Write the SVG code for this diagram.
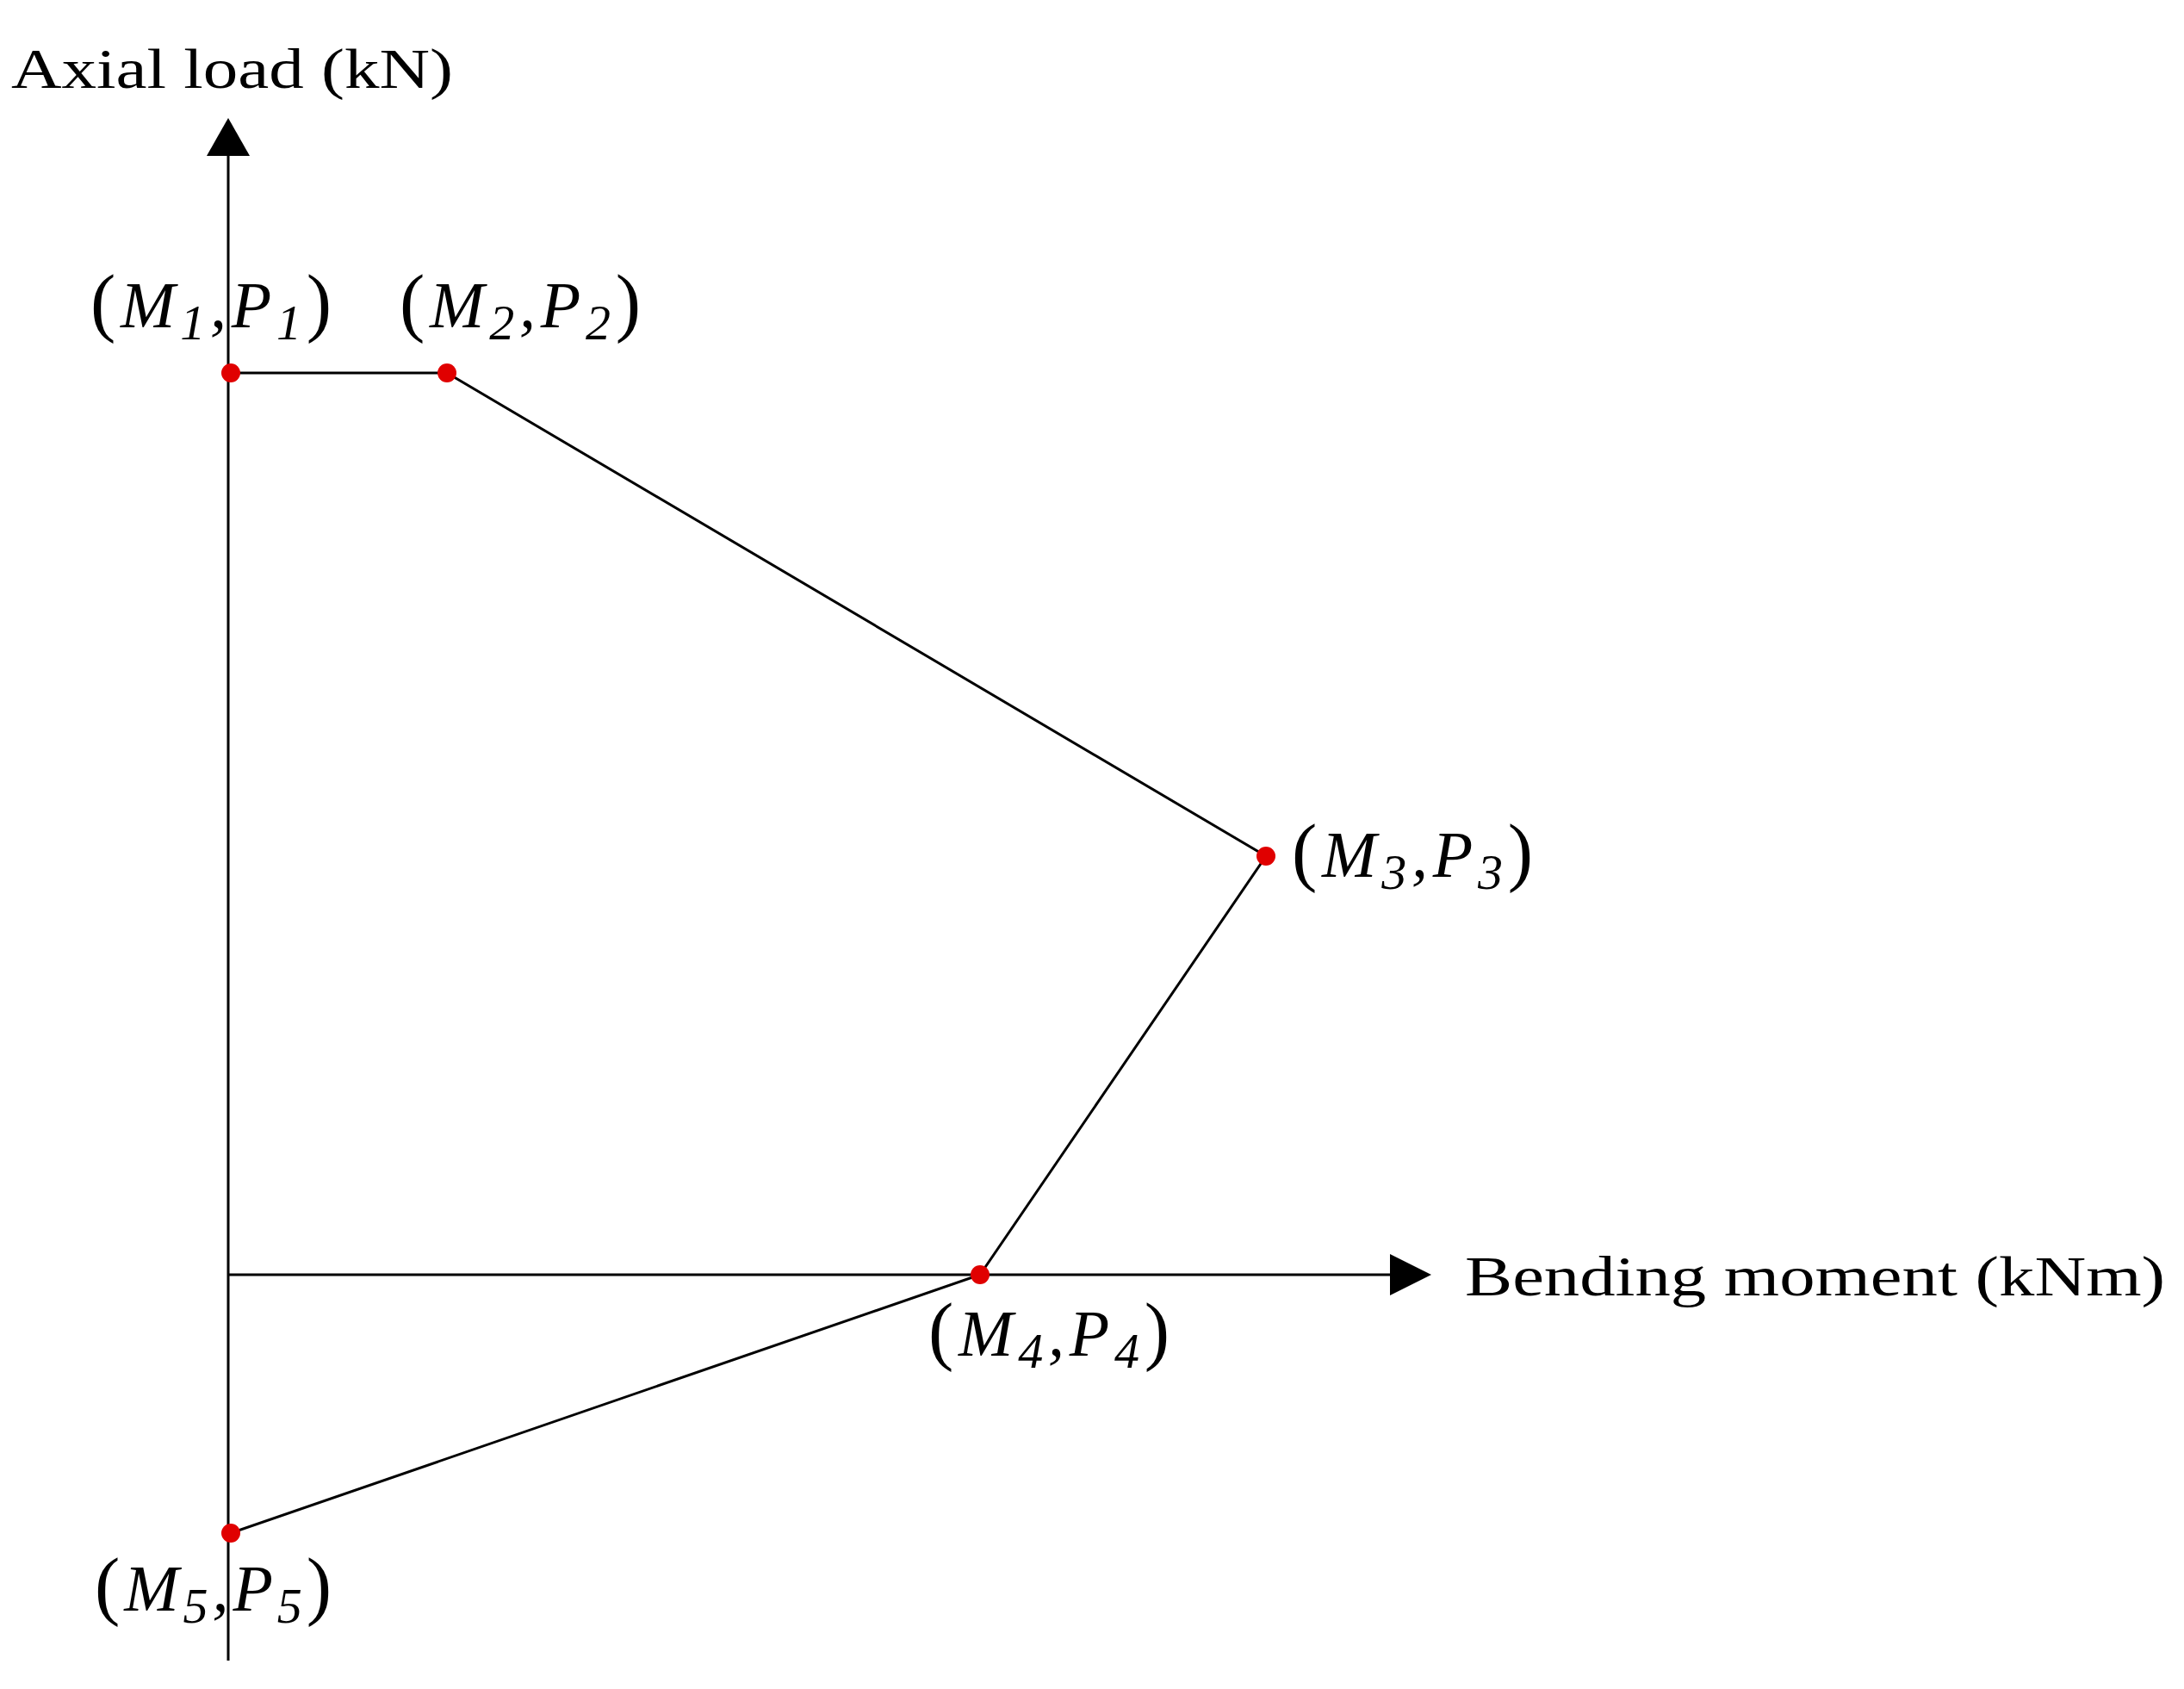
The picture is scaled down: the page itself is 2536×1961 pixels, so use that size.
<svg xmlns="http://www.w3.org/2000/svg" width="2536" height="1961" viewBox="0 0 2536 1961">
<style>
.ax{stroke:#000;stroke-width:3;fill:none}
.ln{stroke:#000;stroke-width:3;fill:none}
.pt{fill:#e00000}
.t{font-family:"Liberation Serif",serif;font-size:66px;fill:#000}
.l{font-family:"Liberation Serif",serif;font-size:76px;font-style:italic;fill:#000}
.s{font-size:58px}
.p{font-style:normal;font-size:88px}
</style>
<rect width="2536" height="1961" fill="#fff"/>
<g id="axes">
<line class="ax" x1="265" y1="175" x2="265" y2="1928"/>
<polygon points="265,137 240,181 290,181"/>
<line class="ax" x1="265" y1="1480" x2="1620" y2="1480"/>
<polygon points="1662,1480 1614,1456 1614,1504"/>
</g>
<g id="connectors">
<polyline class="ln" points="268,433 519,433 1470,994 1138,1480 268,1780"/>
</g>
<g id="points">
<circle class="pt" cx="268" cy="433" r="11"/>
<circle class="pt" cx="519" cy="433" r="11"/>
<circle class="pt" cx="1470" cy="994" r="11"/>
<circle class="pt" cx="1138" cy="1480" r="11"/>
<circle class="pt" cx="268" cy="1780" r="11"/>
</g>
<g id="labels">
<text class="t" x="13" y="102" textLength="513" lengthAdjust="spacingAndGlyphs">Axial load (kN)</text>
<text class="t" x="1701" y="1504" textLength="813" lengthAdjust="spacingAndGlyphs">Bending moment (kNm)</text>
<text class="l" x="105" y="380" textLength="280"><tspan class="p">(</tspan>M<tspan class="s" dy="14">1</tspan><tspan dy="-14">,P</tspan><tspan class="s" dy="14">1</tspan><tspan class="p" dy="-14">)</tspan></text>
<text class="l" x="464" y="380" textLength="280"><tspan class="p">(</tspan>M<tspan class="s" dy="14">2</tspan><tspan dy="-14">,P</tspan><tspan class="s" dy="14">2</tspan><tspan class="p" dy="-14">)</tspan></text>
<text class="l" x="1500" y="1018" textLength="280"><tspan class="p">(</tspan>M<tspan class="s" dy="14">3</tspan><tspan dy="-14">,P</tspan><tspan class="s" dy="14">3</tspan><tspan class="p" dy="-14">)</tspan></text>
<text class="l" x="1078" y="1574" textLength="280"><tspan class="p">(</tspan>M<tspan class="s" dy="14">4</tspan><tspan dy="-14">,P</tspan><tspan class="s" dy="14">4</tspan><tspan class="p" dy="-14">)</tspan></text>
<text class="l" x="110" y="1870" textLength="275"><tspan class="p">(</tspan>M<tspan class="s" dy="14">5</tspan><tspan dy="-14">,P</tspan><tspan class="s" dy="14">5</tspan><tspan class="p" dy="-14">)</tspan></text>
</g>
</svg>
